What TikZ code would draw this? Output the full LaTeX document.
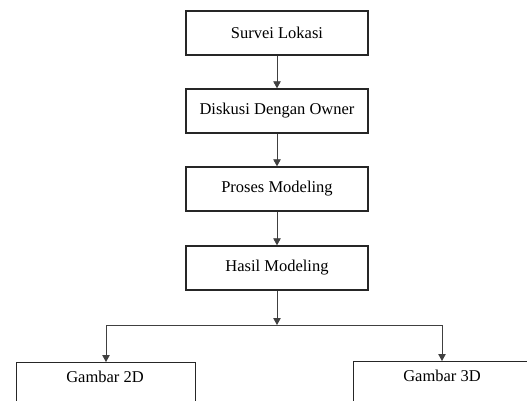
\documentclass[tikz,border=0pt]{standalone}
\usepackage{fontspec}
\setmainfont{Liberation Serif}
\usetikzlibrary{arrows.meta}
\begin{document}
\begin{tikzpicture}[x=1pt,y=-1pt,
  boxst/.style={draw=black!85,line width=1.4pt,minimum width=182pt,minimum height=44pt,inner sep=0pt,font=\fontsize{16.5}{18}\selectfont},
  lowbox/.style={draw=black!85,line width=1.4pt,minimum width=180pt,minimum height=60pt,inner sep=0pt},
  arr/.style={draw=black!75,line width=0.8pt,-{Triangle[length=7pt,width=7.5pt]}},
  ln/.style={draw=black!75,line width=0.8pt}]
\useasboundingbox (0,0) rectangle (527,400);
\clip (0,0) rectangle (527,400);
\node[boxst] (b1) at (277,33) {Survei Lokasi};
\node[boxst] (b2) at (277,111) {Diskusi Dengan Owner};
\node[boxst] (b3) at (277,189) {Proses Modeling};
\node[boxst] (b4) at (277,268) {Hasil Modeling};
\coordinate (j) at (277,325);
\coordinate (jl) at (106,325);
\coordinate (jr) at (442,325);
\node[lowbox,minimum width=179pt,anchor=north west] (b5) at (16,362) {};
\node[lowbox,minimum width=190pt,anchor=north west] (b6) at (353,361) {};
\node[font=\fontsize{16.5}{18}\selectfont] (t5) at (105,377) {Gambar 2D};
\node[font=\fontsize{16.5}{18}\selectfont] (t6) at (442,376) {Gambar 3D};
\draw[arr] (b1) -- (b2);
\draw[arr] (b2) -- (b3);
\draw[arr] (b3) -- (b4);
\draw[arr] (b4) -- (j);
\draw[ln] (jl) -- (jr);
\draw[arr] (jl) -- (jl |- b5.north);
\draw[arr] (jr) -- (jr |- b6.north);
\end{tikzpicture}
\end{document}
